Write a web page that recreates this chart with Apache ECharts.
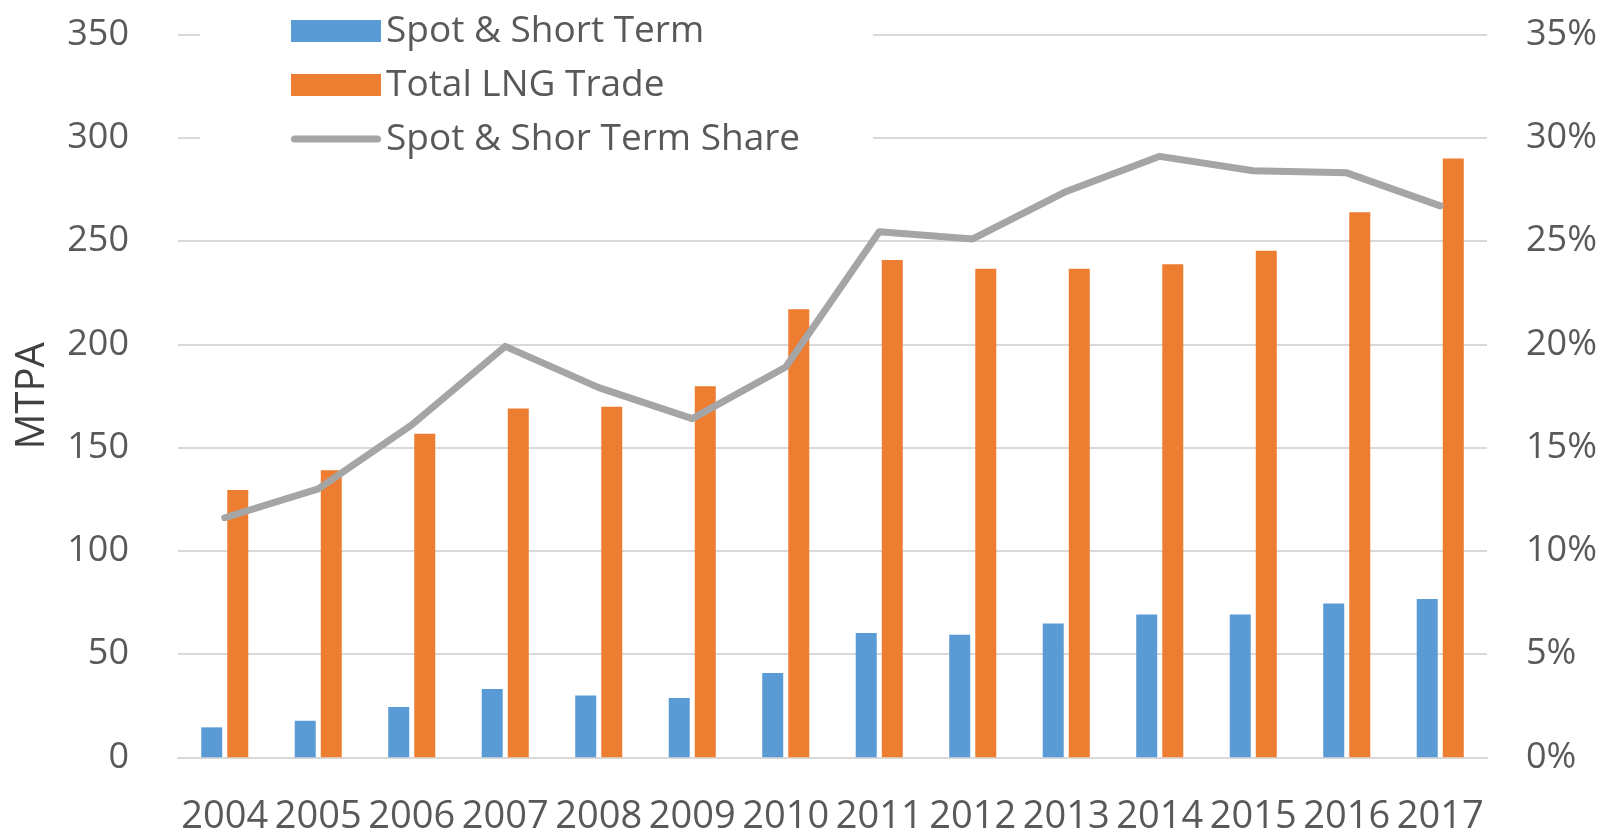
<!DOCTYPE html>
<html>
<head>
<meta charset="utf-8">
<script src="https://cdn.jsdelivr.net/npm/echarts@6/dist/echarts.min.js"></script>
<style>
html,body{margin:0;padding:0;background:#fff;}
#chart{width:1614px;height:836px;}
</style>
</head>
<body>
<div id="chart"></div>
<script>
var years = ['2004','2005','2006','2007','2008','2009','2010','2011','2012','2013','2014','2015','2016','2017'];
var spotShort = [14.5, 17.7, 24.4, 33.1, 29.9, 28.7, 40.8, 60.2, 59.3, 64.8, 69.1, 69.1, 74.5, 76.7];
var totalLNG = [129.4, 139, 156.7, 168.9, 169.7, 179.7, 216.9, 240.8, 236.6, 236.6, 238.7, 245.3, 263.9, 289.9];
var sharePct = [11.6, 13.0, 16.1, 19.9, 17.9, 16.4, 18.9, 25.45, 25.1, 27.4, 29.1, 28.4, 28.3, 26.7];
var leftTicks = [0, 50, 100, 150, 200, 250, 300, 350];
var rightTicks = [0, 5, 10, 15, 20, 25, 30, 35];

var FONT = '"Open Sans", "Noto Sans", sans-serif';
var TXT = '#595959';
var chart = echarts.init(document.getElementById('chart'), null, {renderer: 'canvas'});
chart.setOption({
  animation: false,
  backgroundColor: '#ffffff',
  grid: {left: 178, right: 127, top: 34.5, bottom: 78.7, containLabel: false, outerBoundsMode: 'none'},
  legend: {
    orient: 'vertical',
    left: 200,
    top: 0,
    padding: [11, 73, 10, 91],
    backgroundColor: '#ffffff',
    itemWidth: 90,
    itemHeight: 22,
    itemGap: 14,
    textStyle: {fontFamily: FONT, fontSize: 37, color: TXT, lineHeight: 40},
    data: [
      {name: 'Spot & Short Term', icon: 'rect'},
      {name: 'Total LNG Trade', icon: 'rect'},
      {name: 'Spot & Shor Term Share',
       icon: 'path://M0,0 M0,22 M3.5,7.5 L86.5,7.5 A3.5,3.5 0 0 1 86.5,14.5 L3.5,14.5 A3.5,3.5 0 0 1 3.5,7.5 Z',
       itemStyle: {color: '#A5A5A5'}}
    ]
  },
  xAxis: {
    type: 'category',
    data: years,
    axisLine: {show: true, lineStyle: {color: '#D9D9D9', width: 2}},
    axisTick: {show: false},
    axisLabel: {fontFamily: FONT, fontSize: 38, color: TXT, margin: 41, interval: 0}
  },
  yAxis: [
    {
      type: 'value', min: 0, max: 350, interval: 50,
      name: 'MTPA', nameLocation: 'middle', nameGap: 125,
      nameTextStyle: {fontFamily: FONT, fontSize: 40, color: '#404040'},
      axisLine: {show: false}, axisTick: {show: false},
      axisLabel: {fontFamily: FONT, fontSize: 36, color: TXT, margin: 49},
      splitLine: {lineStyle: {color: '#D9D9D9', width: 2}}
    },
    {
      type: 'value', min: 0, max: 35, interval: 5, position: 'right',
      axisLine: {show: false}, axisTick: {show: false},
      axisLabel: {fontFamily: FONT, fontSize: 36, color: TXT, margin: 39, formatter: '{value}%'},
      splitLine: {show: false}
    }
  ],
  series: [
    {
      name: 'Spot & Short Term', type: 'bar', data: spotShort,
      barWidth: 21, barGap: '24%',
      itemStyle: {color: '#5B9BD5'}
    },
    {
      name: 'Total LNG Trade', type: 'bar', data: totalLNG,
      barWidth: 21, barGap: '24%',
      itemStyle: {color: '#ED7D31'}
    },
    {
      name: 'Spot & Shor Term Share', type: 'line', yAxisIndex: 1, data: sharePct,
      symbol: 'none', itemStyle: {color: '#A5A5A5'},
      lineStyle: {color: '#A5A5A5', width: 7, cap: 'round', join: 'round'}
    }
  ]
});
</script>
</body>
</html>
